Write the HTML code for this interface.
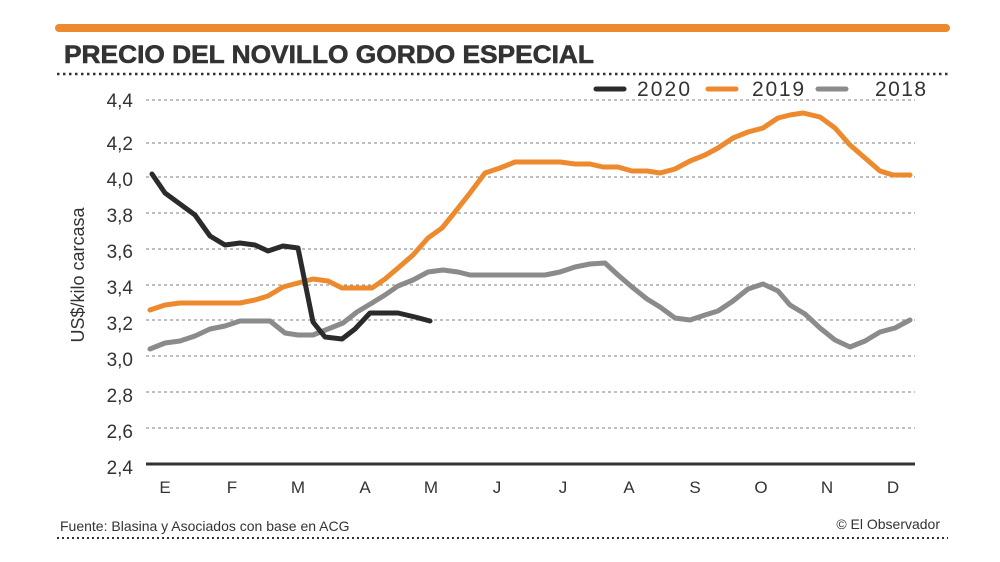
<!DOCTYPE html>
<html><head><meta charset="utf-8"><style>
body{margin:0;background:#fff;width:1000px;height:562px;overflow:hidden}
svg{display:block}
text{font-family:"Liberation Sans",sans-serif;fill:#333}
</style></head><body>
<svg width="1000" height="562" viewBox="0 0 1000 562">
<line x1="59" y1="28" x2="946" y2="28" stroke="#ec8a2d" stroke-width="8" stroke-linecap="round"/>
<text x="64" y="63" style="font-weight:bold;font-size:25px;fill:#333;stroke:#333;stroke-width:0.6" textLength="530" lengthAdjust="spacingAndGlyphs">PRECIO DEL NOVILLO GORDO ESPECIAL</text>
<line x1="57" y1="74" x2="948" y2="74" stroke="#333" stroke-width="2.5" stroke-dasharray="2.5 3.5"/>
<g stroke="#999" stroke-width="1.2" stroke-dasharray="3 3">
<line x1="146" y1="100" x2="915" y2="100"/><line x1="146" y1="143" x2="915" y2="143"/>
<line x1="146" y1="177" x2="915" y2="177"/><line x1="146" y1="213" x2="915" y2="213"/>
<line x1="146" y1="249" x2="915" y2="249"/><line x1="146" y1="285" x2="915" y2="285"/>
<line x1="146" y1="320" x2="915" y2="320"/><line x1="146" y1="356" x2="915" y2="356"/>
<line x1="146" y1="392" x2="915" y2="392"/><line x1="146" y1="428" x2="915" y2="428"/>
</g>
<line x1="146" y1="464" x2="915" y2="464" stroke="#333" stroke-width="3"/>
<g font-size="19" text-anchor="end">
<text x="133" y="107">4,4</text><text x="133" y="150">4,2</text><text x="133" y="186">4,0</text>
<text x="133" y="222">3,8</text><text x="133" y="258">3,6</text><text x="133" y="294">3,4</text>
<text x="133" y="330">3,2</text><text x="133" y="366">3,0</text><text x="133" y="402">2,8</text>
<text x="133" y="438">2,6</text><text x="133" y="474">2,4</text>
</g>
<g font-size="17" text-anchor="middle">
<text x="165" y="493">E</text><text x="232" y="493">F</text><text x="298" y="493">M</text><text x="365" y="493">A</text>
<text x="431" y="493">M</text><text x="497" y="493">J</text><text x="563" y="493">J</text><text x="629" y="493">A</text>
<text x="695" y="493">S</text><text x="761" y="493">O</text><text x="827" y="493">N</text><text x="893" y="493">D</text>
</g>
<text transform="translate(84,275) rotate(-90)" font-size="18" text-anchor="middle">US$/kilo carcasa</text>
<g fill="none" stroke-width="5" stroke-linejoin="round" stroke-linecap="round">
<polyline stroke="#8c8a8a" points="150,349 165,343 180,341 195,336 210,329 225,326 240,321 270,321 285,333 298,335 313,335 328,329 343,323 357,312 372,303 385,295 398,286 413,280 428,272 443,270 458,272 470,275 545,275 560,272 575,267 590,264 605,263 618,275 632,287 647,299 660,307 675,318 690,320 705,315 718,311 733,301 748,289 763,284 778,291 790,305 805,314 820,328 835,340 850,347 865,341 880,332 895,328 910,320"/>
<polyline stroke="#ec8a2d" points="150,310 165,305 180,303 240,303 255,300 268,296 283,287 298,283 313,279 328,281 342,288 372,288 385,279 398,268 413,255 428,238 442,228 455,212 470,193 485,173 500,168 515,162 560,162 575,164 590,164 603,167 618,167 632,171 647,171 660,173 675,169 690,161 705,155 718,148 733,138 748,132 763,128 778,118 790,115 803,113 820,117 835,128 850,145 865,158 880,171 893,175 910,175"/>
<polyline stroke="#2b2b2b" points="152,174 165,193 180,204 195,215 210,236 225,245 240,243 255,245 268,251 283,246 298,248 313,322 325,337 342,339 355,329 370,313 398,313 415,317 430,321"/>
</g>
<g stroke-width="5" stroke-linecap="round">
<line x1="596" y1="89" x2="624" y2="89" stroke="#2b2b2b"/>
<line x1="708" y1="89" x2="736" y2="89" stroke="#ec8a2d"/>
<line x1="818" y1="89" x2="846" y2="89" stroke="#8c8a8a"/>
</g>
<g font-size="21"><text x="637" y="96" textLength="53">2020</text><text x="752" y="96" textLength="52">2019</text><text x="875" y="96" textLength="51">2018</text></g>
<text x="60" y="531" font-size="14">Fuente: Blasina y Asociados con base en ACG</text>
<text x="940" y="529" font-size="14" text-anchor="end">© El Observador</text>
<line x1="57" y1="538" x2="948" y2="538" stroke="#333" stroke-width="2" stroke-dasharray="2 3"/>
</svg>
</body></html>
